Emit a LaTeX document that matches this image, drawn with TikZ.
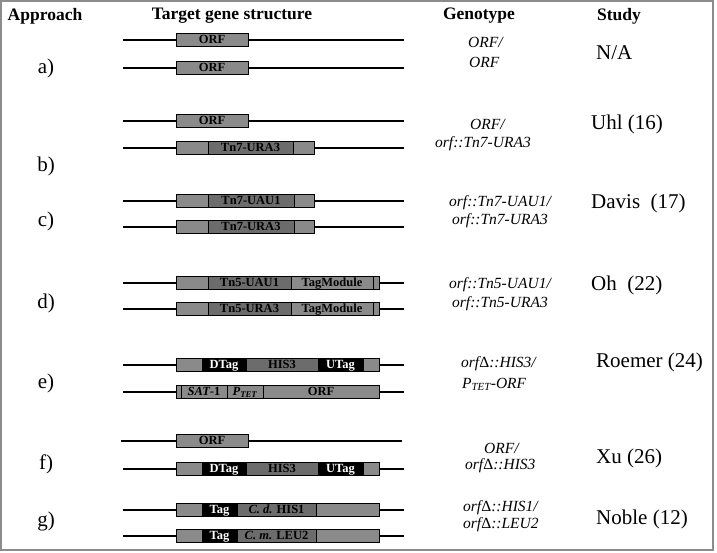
\documentclass[tikz,border=0pt]{standalone}
\usepackage{fontspec}
\setmainfont{Liberation Serif}
\definecolor{framegray}{RGB}{140,140,140}
\definecolor{genegray}{RGB}{138,138,138}
\definecolor{genedark}{RGB}{108,108,108}
\begin{document}
\begin{tikzpicture}[x=1pt,y=-1pt,
    head/.style={font=\fontsize{17.5}{20}\selectfont\bfseries},
    appr/.style={font=\fontsize{21}{24}\selectfont},
    geno/.style={font=\fontsize{15.5}{18}\selectfont\itshape,anchor=west,inner sep=0pt},
    study/.style={font=\fontsize{21}{24}\selectfont,anchor=west,inner sep=0pt},
    seg/.style={draw,thin,fill=genegray,anchor=west,minimum height=13pt,text height=9pt,text depth=2.5pt,inner sep=0pt,outer sep=0pt,font=\fontsize{12.5}{14}\selectfont\bfseries},
    segdark/.style={seg,fill=genedark},
    tagseg/.style={seg,fill=black,text=white},
    dna/.style={line width=1.1pt}]
    \useasboundingbox (0,0) rectangle (717,552);
    \draw[framegray,line width=1.5pt] (1,1) rectangle (713,550);
    % column heads
    \node[head] (happr) at (45,16) {Approach};
    \node[head] (hgene) at (232,16) {Target gene structure};
    \node[head] (hgeno) at (479,16) {Genotype};
    \node[head] (hstudy) at (619,16) {Study};
    % a)
    \coordinate (a1w) at (123,40); \coordinate (a1e) at (404,40);
    \coordinate (a2w) at (123,68); \coordinate (a2e) at (404,68);
    \draw[dna] (a1w) -- (a1e);
    \draw[dna] (a2w) -- (a2e);
    \node[seg,minimum width=72pt] (a1orf) at (176,40) {ORF};
    \node[seg,minimum width=72pt] (a2orf) at (176,68) {ORF};
    \node[appr] (la) at (46,68) {a)};
    \node[geno] (ga1) at (468,42) {ORF/};
    \node[geno] (ga2) at (469,62) {ORF};
    \node[study] (sa) at (596,53) {N/A};
    % b)
    \coordinate (b1w) at (123,121); \coordinate (b1e) at (404,121);
    \coordinate (b2w) at (123,148); \coordinate (b2e) at (404,148);
    \draw[dna] (b1w) -- (b1e);
    \draw[dna] (b2w) -- (b2e);
    \node[seg,minimum width=72pt] (b1orf) at (176,121) {ORF};
    \node[seg,minimum width=32pt] (b2l) at (176,148) {};
    \node[segdark,minimum width=85pt] (b2tn) at (b2l.east) {Tn7-URA3};
    \node[seg,minimum width=21pt] (b2r) at (b2tn.east) {};
    \node[appr] (lb) at (46,166) {b)};
    \node[geno] (gb1) at (470,124) {ORF/};
    \node[geno] (gb2) at (435,144) {orf::Tn7-URA3};
    \node[study] (sb) at (591,124) {Uhl (16)};
    % c)
    \coordinate (c1w) at (123,201); \coordinate (c1e) at (404,201);
    \coordinate (c2w) at (123,227); \coordinate (c2e) at (404,227);
    \draw[dna] (c1w) -- (c1e);
    \draw[dna] (c2w) -- (c2e);
    \node[seg,minimum width=32pt] (c1l) at (176,201) {};
    \node[segdark,minimum width=86pt] (c1tn) at (c1l.east) {Tn7-UAU1};
    \node[seg,minimum width=20pt] (c1r) at (c1tn.east) {};
    \node[seg,minimum width=32pt] (c2l) at (176,227) {};
    \node[segdark,minimum width=86pt] (c2tn) at (c2l.east) {Tn7-URA3};
    \node[seg,minimum width=20pt] (c2r) at (c2tn.east) {};
    \node[appr] (lc) at (46,221) {c)};
    \node[geno] (gc1) at (449,203) {orf::Tn7-UAU1/};
    \node[geno] (gc2) at (452,221) {orf::Tn7-URA3};
    \node[study] (sc) at (591,203) {Davis~~(17)};
    % d)
    \coordinate (d1w) at (123,283); \coordinate (d1e) at (404,283);
    \coordinate (d2w) at (123,309); \coordinate (d2e) at (404,309);
    \draw[dna] (d1w) -- (d1e);
    \draw[dna] (d2w) -- (d2e);
    \node[seg,minimum width=32pt] (d1l) at (176,283) {};
    \node[segdark,minimum width=83pt] (d1tn) at (d1l.east) {Tn5-UAU1};
    \node[seg,minimum width=82pt] (d1tm) at (d1tn.east) {TagModule};
    \node[seg,minimum width=6pt] (d1r) at (d1tm.east) {};
    \node[seg,minimum width=32pt] (d2l) at (176,309) {};
    \node[segdark,minimum width=83pt] (d2tn) at (d2l.east) {Tn5-URA3};
    \node[seg,minimum width=82pt] (d2tm) at (d2tn.east) {TagModule};
    \node[seg,minimum width=6pt] (d2r) at (d2tm.east) {};
    \node[appr] (ld) at (46,303) {d)};
    \node[geno] (gd1) at (449,285) {orf::Tn5-UAU1/};
    \node[geno] (gd2) at (452,304) {orf::Tn5-URA3};
    \node[study] (sd) at (591,285) {Oh~~(22)};
    % e)
    \coordinate (e1w) at (123,365); \coordinate (e1e) at (404,365);
    \coordinate (e2w) at (123,392); \coordinate (e2e) at (404,392);
    \draw[dna] (e1w) -- (e1e);
    \draw[dna] (e2w) -- (e2e);
    \node[seg,minimum width=26pt] (e1l) at (176,365) {};
    \node[tagseg,minimum width=44pt] (e1dt) at (e1l.east) {DTag};
    \node[segdark,minimum width=72pt] (e1his) at (e1dt.east) {HIS3};
    \node[tagseg,minimum width=45pt] (e1ut) at (e1his.east) {UTag};
    \node[seg,minimum width=16pt] (e1r) at (e1ut.east) {};
    \node[seg,minimum width=5pt] (e2l) at (176,392) {};
    \node[seg,minimum width=46pt] (e2sat) at (e2l.east) {{\itshape SAT}-1};
    \node[seg,minimum width=36pt] (e2tet) at (e2sat.east) {{\itshape P}\textsubscript{\itshape TET}};
    \node[seg,minimum width=116pt] (e2orf) at (e2tet.east) {ORF\hspace{46pt}};
    \node[appr] (le) at (46,383) {e)};
    \node[geno] (ge1) at (461,364) {orf{\upshape Δ}::HIS3/};
    \node[geno] (ge2) at (462,384) {P\textsubscript{TET}-ORF};
    \node[study] (se) at (596,362) {Roemer (24)};
    % f)
    \coordinate (f1w) at (121,441); \coordinate (f1e) at (402,441);
    \coordinate (f2w) at (123,469); \coordinate (f2e) at (404,469);
    \draw[dna] (f1w) -- (f1e);
    \draw[dna] (f2w) -- (f2e);
    \node[seg,minimum width=72pt] (f1orf) at (176,441) {ORF};
    \node[seg,minimum width=26pt] (f2l) at (176,469) {};
    \node[tagseg,minimum width=44pt] (f2dt) at (f2l.east) {DTag};
    \node[segdark,minimum width=72pt] (f2his) at (f2dt.east) {HIS3};
    \node[tagseg,minimum width=45pt] (f2ut) at (f2his.east) {UTag};
    \node[seg,minimum width=16pt] (f2r) at (f2ut.east) {};
    \node[appr] (lf) at (46,464) {f)};
    \node[geno] (gf1) at (484,448) {ORF/};
    \node[geno] (gf2) at (465,466) {orf{\upshape Δ}::HIS3};
    \node[study] (sf) at (596,458) {Xu (26)};
    % g)
    \coordinate (g1w) at (123,510); \coordinate (g1e) at (404,510);
    \coordinate (g2w) at (123,536); \coordinate (g2e) at (404,536);
    \draw[dna] (g1w) -- (g1e);
    \draw[dna] (g2w) -- (g2e);
    \node[seg,minimum width=26pt] (g1l) at (176,510) {};
    \node[tagseg,minimum width=35pt] (g1tag) at (g1l.east) {Tag};
    \node[segdark,minimum width=79pt] (g1his) at (g1tag.east) {{\itshape C. d.} HIS1};
    \node[seg,minimum width=63pt] (g1r) at (g1his.east) {};
    \node[seg,minimum width=26pt] (g2l) at (176,536) {};
    \node[tagseg,minimum width=35pt] (g2tag) at (g2l.east) {Tag};
    \node[segdark,minimum width=79pt] (g2leu) at (g2tag.east) {{\itshape C. m.} LEU2};
    \node[seg,minimum width=63pt] (g2r) at (g2leu.east) {};
    \node[appr] (lg) at (46,521) {g)};
    \node[geno] (gg1) at (463,508) {orf{\upshape Δ}::HIS1/};
    \node[geno] (gg2) at (463,525) {orf{\upshape Δ}::LEU2};
    \node[study] (sg) at (596,519) {Noble (12)};
\end{tikzpicture}
\end{document}
